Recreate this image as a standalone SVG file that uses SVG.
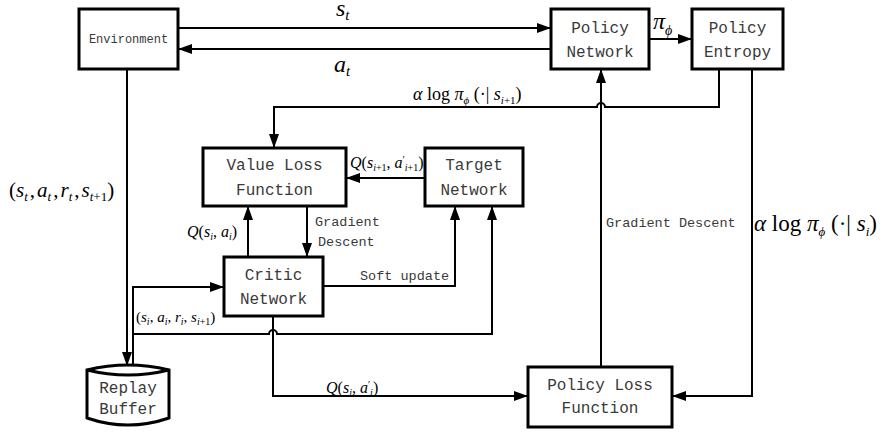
<svg xmlns="http://www.w3.org/2000/svg" width="883" height="432" viewBox="0 0 883 432">
  <defs>
    <marker id="arrow" viewBox="0 0 14 10" refX="14" refY="5" markerWidth="14" markerHeight="10" markerUnits="userSpaceOnUse" orient="auto">
      <path d="M0,0 L14,5 L0,10 Z" fill="#000"/>
    </marker>
    <style>
      .box { fill: #fff; stroke: #000; stroke-width: 3; }
      .lbl { font-family: "Liberation Mono", "DejaVu Sans Mono", monospace; fill: #3a3a3a; text-anchor: middle; font-size: 16px; }
      .note { font-family: "Liberation Mono", "DejaVu Sans Mono", monospace; fill: #3a3a3a; font-size: 13.5px; }
      .wire { fill: none; stroke: #000; stroke-width: 2; }
      .math { font-family: "Liberation Serif", "Times New Roman", serif; fill: #000; }
      .it { font-style: italic; }
    </style>
  </defs>
  <rect width="883" height="432" fill="#fff"/>

  <!-- connectors -->
  <g id="connectors">
    <path class="wire" d="M178,28 H551" marker-end="url(#arrow)"/>
    <path class="wire" d="M551,49 H178" marker-end="url(#arrow)"/>
    <path class="wire" d="M649,39 H692" marker-end="url(#arrow)"/>
    <path class="wire" d="M719,69 V107 H605 A4,4 0 0 0 597,107 H274 V148" marker-end="url(#arrow)"/>
    <path class="wire" d="M752,69 V396 H672" marker-end="url(#arrow)"/>
    <path class="wire" d="M601,367 V69" marker-end="url(#arrow)"/>
    <path class="wire" d="M425,178 H346" marker-end="url(#arrow)"/>
    <path class="wire" d="M248,257 V206" marker-end="url(#arrow)"/>
    <path class="wire" d="M307,206 V257" marker-end="url(#arrow)"/>
    <path class="wire" d="M323,286 H455 V206" marker-end="url(#arrow)"/>
    <path class="wire" d="M127,69 V366" marker-end="url(#arrow)"/>
    <path class="wire" d="M133,368 V287 H224" marker-end="url(#arrow)"/>
    <path class="wire" d="M133,334 H269 A4,4 0 0 1 277,334 H492 V206" marker-end="url(#arrow)"/>
    <path class="wire" d="M273,316 V396 H528" marker-end="url(#arrow)"/>
  </g>

  <!-- connector labels -->
  <g id="labels">
    <text class="math it" x="336" y="16" font-size="24">s<tspan font-size="15" dy="4">t</tspan></text>
    <text class="math it" x="334" y="72" font-size="24">a<tspan font-size="15" dy="4">t</tspan></text>
    <text class="math it" x="653" y="29" font-size="24">π<tspan font-size="14" dy="6">ϕ</tspan></text>
    <text class="math" x="413" y="100" font-size="18"><tspan class="it">α</tspan> log <tspan class="it">π</tspan><tspan class="it" font-size="11" dy="4">ϕ</tspan><tspan dy="-4"> (·| </tspan><tspan class="it">s</tspan><tspan class="it" font-size="11" dy="4">i</tspan><tspan font-size="11">+1</tspan><tspan dy="-4">)</tspan></text>
    <text class="math" x="350" y="168" font-size="16"><tspan class="it">Q</tspan>(<tspan class="it">s</tspan><tspan class="it" font-size="10" dy="3">i</tspan><tspan font-size="10">+1</tspan><tspan dy="-3">, </tspan><tspan class="it">a</tspan><tspan font-size="10" dy="-5">′</tspan><tspan class="it" font-size="10" dy="8">i</tspan><tspan font-size="10">+1</tspan><tspan dy="-3">)</tspan></text>
    <text class="math" x="187" y="237" font-size="16"><tspan class="it">Q</tspan>(<tspan class="it">s</tspan><tspan class="it" font-size="10" dy="3">i</tspan><tspan dy="-3">, </tspan><tspan class="it">a</tspan><tspan class="it" font-size="10" dy="3">i</tspan><tspan dy="-3">)</tspan></text>
    <text class="math" x="9" y="197" font-size="21">(<tspan class="it">s</tspan><tspan class="it" font-size="13" dy="4">t</tspan><tspan dx="2" dy="-4">,</tspan><tspan class="it" dx="2">a</tspan><tspan class="it" font-size="13" dy="4">t</tspan><tspan dx="2" dy="-4">,</tspan><tspan class="it" dx="2">r</tspan><tspan class="it" font-size="13" dy="4">t</tspan><tspan dx="2" dy="-4">,</tspan><tspan class="it" dx="2">s</tspan><tspan class="it" font-size="13" dy="4">t</tspan><tspan font-size="13">+1</tspan><tspan dy="-4">)</tspan></text>
    <text class="math" x="136" y="322" font-size="15">(<tspan class="it">s</tspan><tspan class="it" font-size="10" dy="3">i</tspan><tspan dy="-3">, </tspan><tspan class="it">a</tspan><tspan class="it" font-size="10" dy="3">i</tspan><tspan dy="-3">, </tspan><tspan class="it">r</tspan><tspan class="it" font-size="10" dy="3">i</tspan><tspan dy="-3">, </tspan><tspan class="it">s</tspan><tspan class="it" font-size="10" dy="3">i</tspan><tspan font-size="10">+1</tspan><tspan dy="-3">)</tspan></text>
    <text class="math" x="326" y="393" font-size="16"><tspan class="it">Q</tspan>(<tspan class="it">s</tspan><tspan class="it" font-size="10" dy="3">i</tspan><tspan dy="-3">, </tspan><tspan class="it">a</tspan><tspan font-size="10" dy="-5">′</tspan><tspan class="it" font-size="10" dy="8">i</tspan><tspan dy="-3">)</tspan></text>
    <text class="math" x="754" y="231" font-size="23"><tspan class="it">α</tspan> log <tspan class="it">π</tspan><tspan class="it" font-size="13" dy="5">ϕ</tspan><tspan dy="-5"> (·| </tspan><tspan class="it">s</tspan><tspan class="it" font-size="13" dy="5">i</tspan><tspan dy="-5">)</tspan></text>
    <text class="note" x="315" y="226">Gradient</text>
    <text class="note" x="318" y="246">Descent</text>
    <text class="note" x="606" y="227">Gradient Descent</text>
    <text class="note" x="360" y="280">Soft update</text>
  </g>

  <!-- nodes -->
  <g id="environment">
    <rect class="box" x="79" y="9" width="99" height="60"/>
    <text class="lbl" x="128.5" y="43" style="font-size:12px">Environment</text>
  </g>
  <g id="policy-network">
    <rect class="box" x="551" y="9" width="98" height="60"/>
    <text class="lbl" x="600" y="33">Policy</text>
    <text class="lbl" x="600" y="57">Network</text>
  </g>
  <g id="policy-entropy">
    <rect class="box" x="692" y="9" width="91" height="60"/>
    <text class="lbl" x="737.5" y="33">Policy</text>
    <text class="lbl" x="737.5" y="57">Entropy</text>
  </g>
  <g id="value-loss">
    <rect class="box" x="203" y="148" width="143" height="58"/>
    <text class="lbl" x="274.5" y="170">Value Loss</text>
    <text class="lbl" x="274.5" y="195">Function</text>
  </g>
  <g id="target-network">
    <rect class="box" x="425" y="148" width="98" height="58"/>
    <text class="lbl" x="474" y="170">Target</text>
    <text class="lbl" x="474" y="195">Network</text>
  </g>
  <g id="critic-network">
    <rect class="box" x="224" y="257" width="99" height="59"/>
    <text class="lbl" x="273.5" y="280">Critic</text>
    <text class="lbl" x="273.5" y="304">Network</text>
  </g>
  <g id="replay-buffer">
    <path class="box" d="M87,370 Q128,360 169,370 V418 Q128,432 87,418 Z"/>
    <path class="box" d="M87,370 Q128,380 169,370" fill="none"/>
    <text class="lbl" x="128" y="393">Replay</text>
    <text class="lbl" x="128" y="414">Buffer</text>
  </g>
  <g id="policy-loss">
    <rect class="box" x="528" y="367" width="144" height="60"/>
    <text class="lbl" x="600" y="390">Policy Loss</text>
    <text class="lbl" x="600" y="413">Function</text>
  </g>
</svg>
